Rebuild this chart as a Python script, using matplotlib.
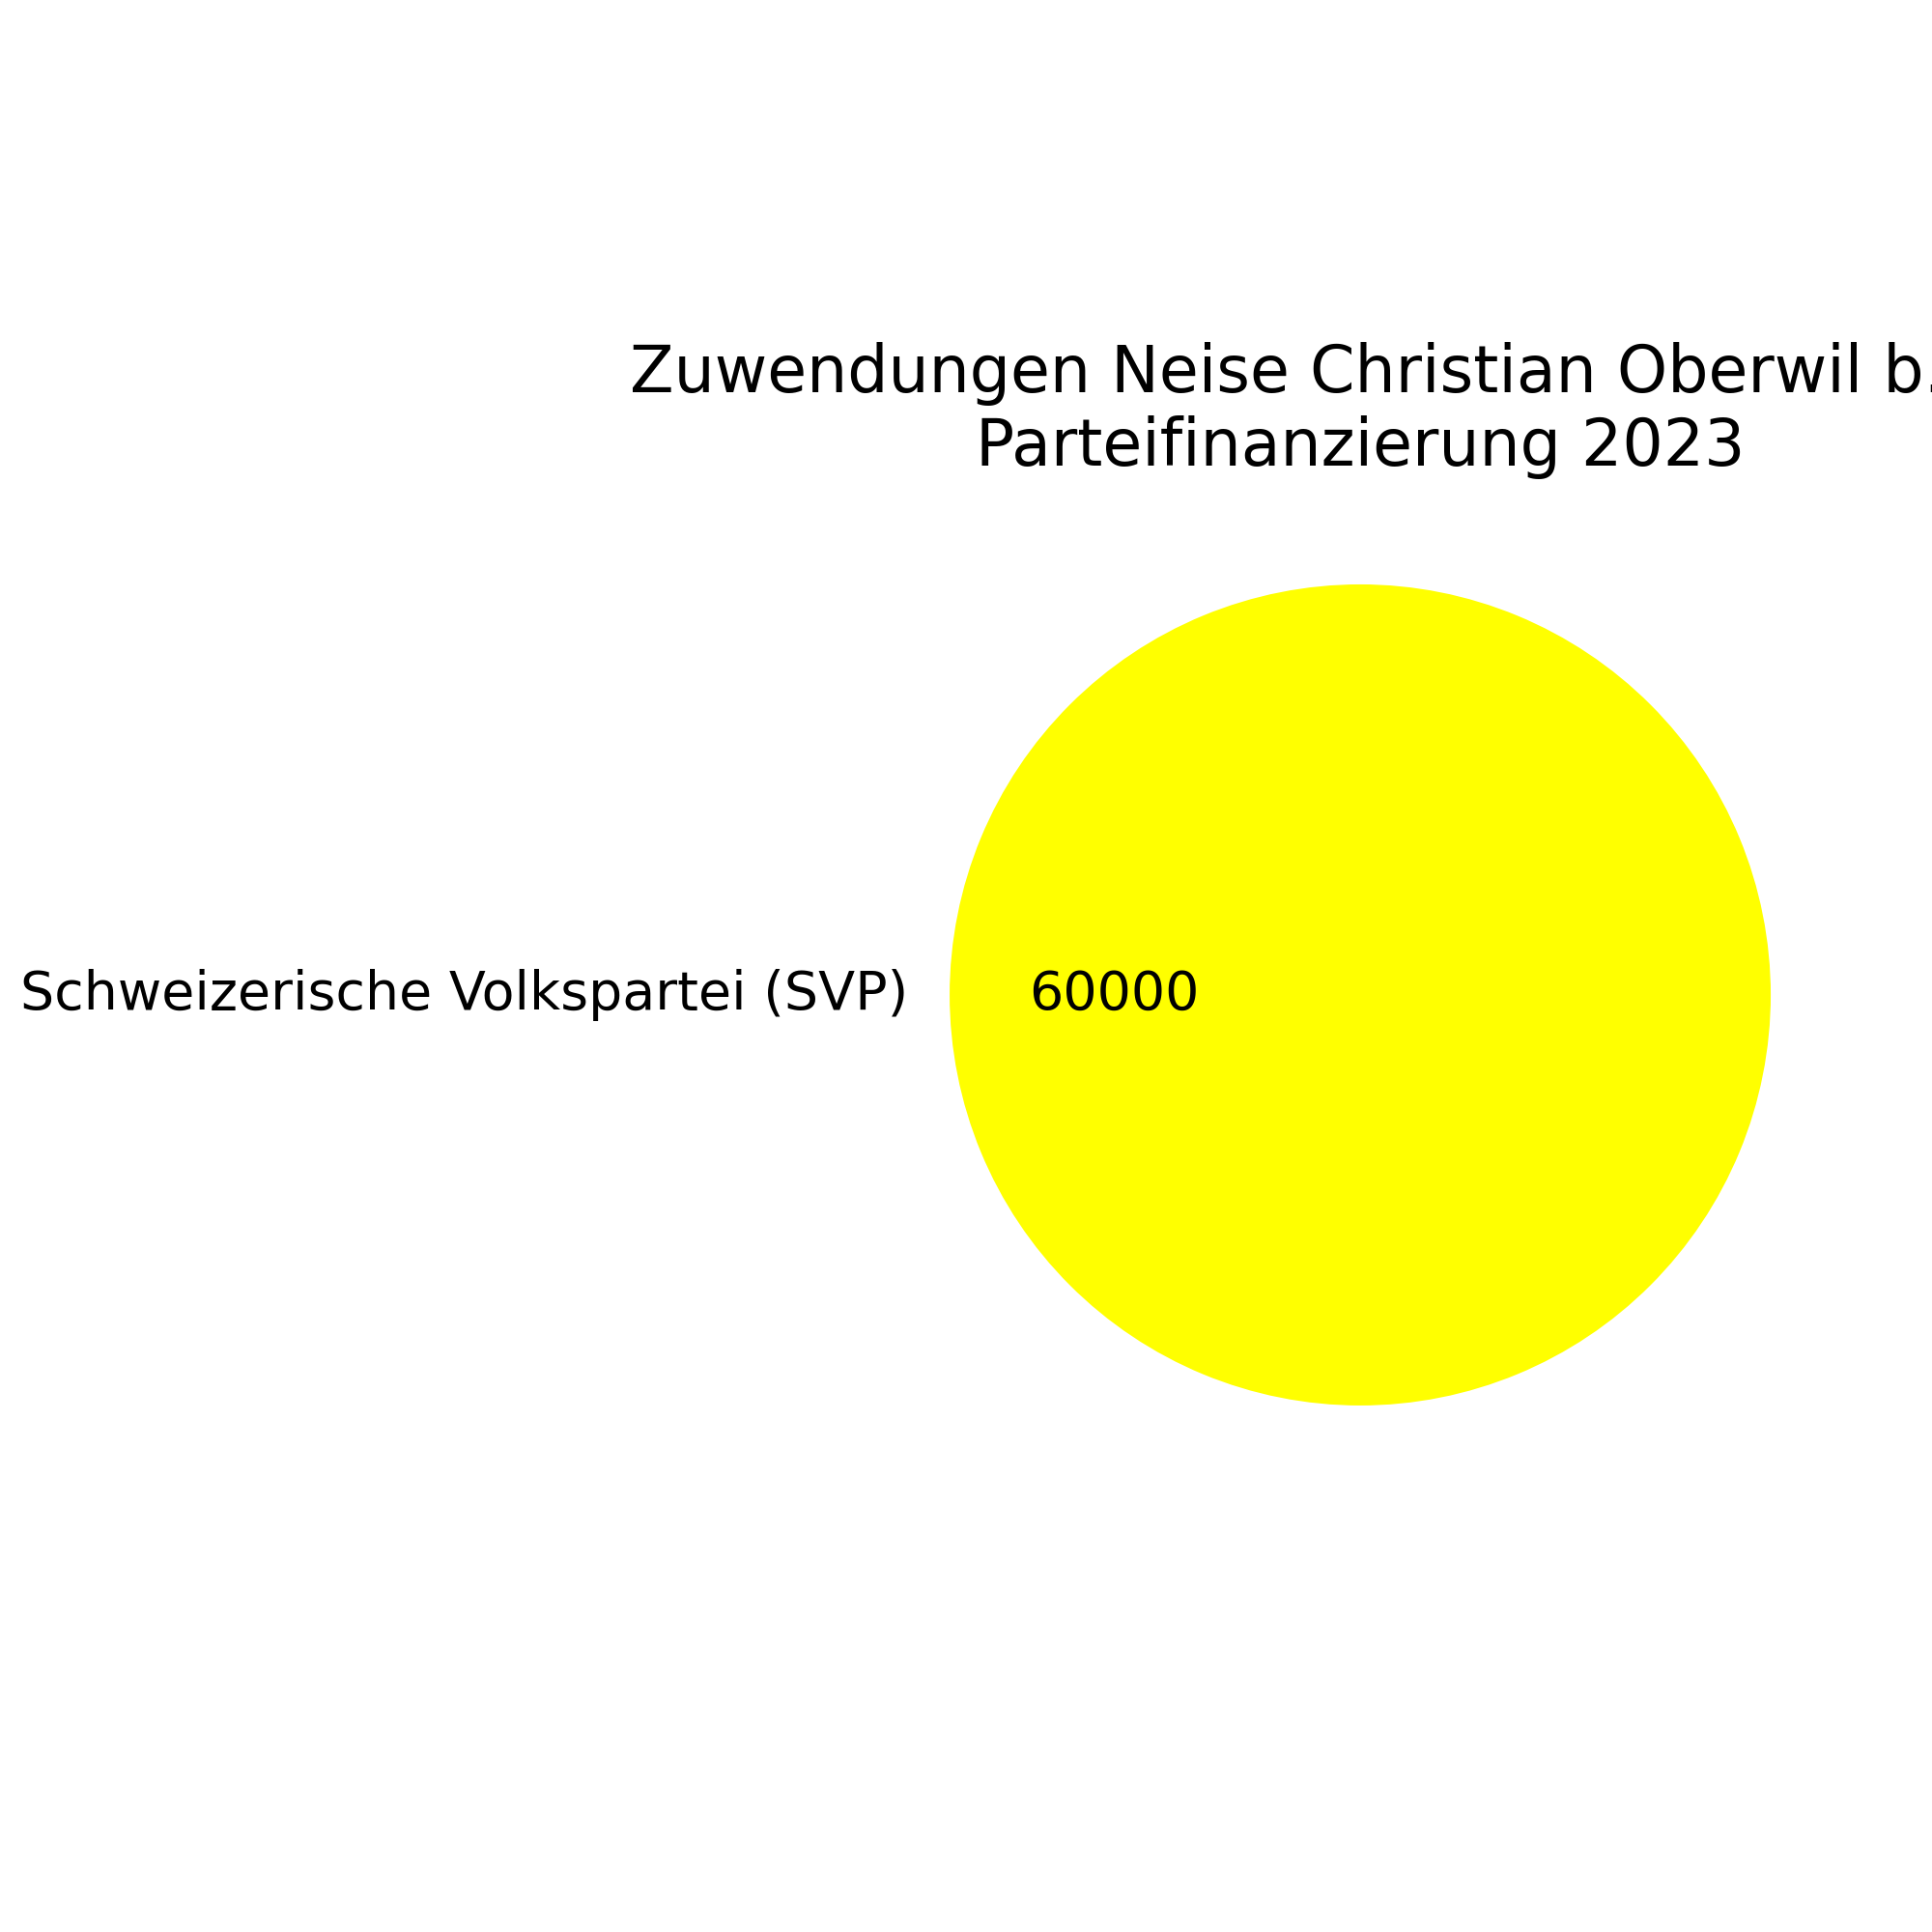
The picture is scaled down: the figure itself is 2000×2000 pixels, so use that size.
import matplotlib
matplotlib.use("Agg")
import matplotlib.pyplot as plt

# data
parteien = ["Schweizerische Volkspartei (SVP)"]
betraege = [60000]
farben = ["#FFFF00"]

plt.rcParams["font.size"] = 20

fig = plt.figure(figsize=(10, 10), dpi=200)
# axes box placed to match the reference layout
ax = fig.add_axes([0.4384, 0.2194, 0.53125, 0.53125])

total = sum(betraege)
ax.pie(
    betraege,
    labels=parteien,
    colors=farben,
    autopct=lambda p: "{:.0f}".format(p * total / 100),
)
ax.set_title("Zuwendungen Neise Christian Oberwil b. Zug\nParteifinanzierung 2023")

plt.savefig("out.png", dpi=200)
